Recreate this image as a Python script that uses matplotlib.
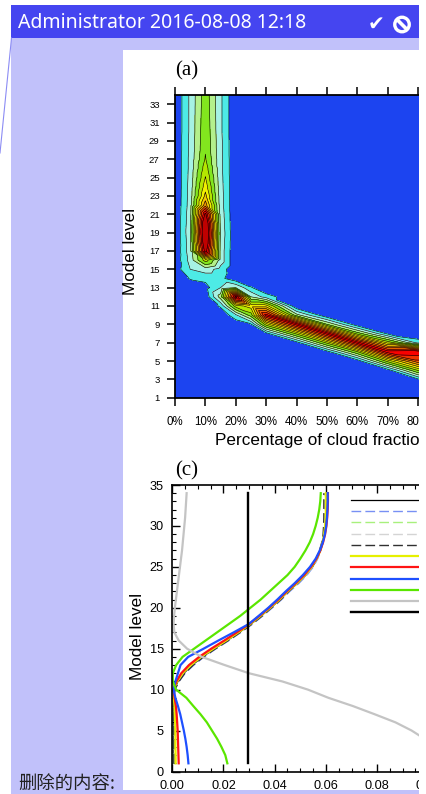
import matplotlib
matplotlib.use("Agg")
import matplotlib.pyplot as plt
import matplotlib.tri as mtri
import numpy as np
from matplotlib.patches import Rectangle, Ellipse
from matplotlib.lines import Line2D

plt.rcParams['font.family'] = ['Liberation Sans', 'DejaVu Sans']

W, H = 427, 794

# ---------------- panel (a) data ----------------
frac_bins = [0, 5, 10, 15, 20, 25, 30, 40, 50, 60, 70, 80, 90, 100]
levels_a = list(range(1, 35))
cloud_freq = [
    [0, 0, 0, 0, 0, 0, 0, 0, 0, 0, 0, 0, 0, 0],               # 1
    [0, 0, 0, 0, 0, 0, 0, 0, 0, 0, 0, 0, 0, 1.0],             # 2
    [0, 0, 0, 0, 0, 0, 0, 0, 0, 0, 0, 0.85, 2.0, 3.0],        # 3
    [0, 0, 0, 0, 0, 0, 0, 0, 0, 0, 0.55, 5.2, 5.0, 6.0],      # 4
    [0, 0, 0, 0, 0, 0, 0, 0, 0, 0.4, 5.4, 9.8, 10.0, 10.0],   # 5
    [0, 0, 0, 0, 0, 0, 0, 0, 0.55, 4.9, 11.6, 11.8, 10.0, 6.0],  # 6
    [0, 0, 0, 0, 0, 0, 0, 0.55, 5.3, 11.5, 5.7, 1.6, 1.5, 0.5],  # 7
    [0, 0, 0, 0, 0, 0, 0.63, 5.3, 11.5, 4.5, 0.7, 0, 0, 0],   # 8
    [0, 0, 0, 0, 0.2, 0.9, 5.5, 11.5, 4.0, 0.25, 0, 0, 0, 0],  # 9
    [0, 0, 0, 0, 1.8, 4.5, 11.5, 3.4, 0.1, 0, 0, 0, 0, 0],    # 10
    [0, 0, 0, 1.2, 5.5, 6.5, 6.5, 0, 0, 0, 0, 0, 0, 0],       # 11
    [0, 0, 0.2, 3.5, 12.5, 3.0, 1.5, 0, 0, 0, 0, 0, 0, 0],    # 12
    [0, 0.2, 0.6, 2.0, 3.0, 1.1, 0, 0, 0, 0, 0, 0, 0, 0],     # 13
    [0.1, 1.1, 1.3, 1.3, 0.2, 0, 0, 0, 0, 0, 0, 0, 0, 0],     # 14
    [0.4, 2.0, 2.5, 1.6, 0, 0, 0, 0, 0, 0, 0, 0, 0, 0],       # 15
    [0.2, 2.4, 5.5, 2.6, 0, 0, 0, 0, 0, 0, 0, 0, 0, 0],       # 16
    [0.1, 2.6, 12.8, 2.6, 0, 0, 0, 0, 0, 0, 0, 0, 0, 0],      # 17
    [0, 2.7, 14.0, 2.7, 0, 0, 0, 0, 0, 0, 0, 0, 0, 0],        # 18
    [0, 2.8, 14.5, 2.8, 0, 0, 0, 0, 0, 0, 0, 0, 0, 0],        # 19
    [0, 2.7, 14.0, 2.7, 0, 0, 0, 0, 0, 0, 0, 0, 0, 0],        # 20
    [0, 2.6, 12.4, 2.6, 0, 0, 0, 0, 0, 0, 0, 0, 0, 0],        # 21
    [0, 2.5, 8.6, 2.5, 0, 0, 0, 0, 0, 0, 0, 0, 0, 0],         # 22
    [0, 2.45, 7.3, 2.45, 0, 0, 0, 0, 0, 0, 0, 0, 0, 0],       # 23
    [0, 2.4, 6.6, 2.4, 0, 0, 0, 0, 0, 0, 0, 0, 0, 0],         # 24
    [0, 2.35, 6.05, 2.35, 0, 0, 0, 0, 0, 0, 0, 0, 0, 0],      # 25
    [0, 2.3, 5.55, 2.3, 0, 0, 0, 0, 0, 0, 0, 0, 0, 0],        # 26
    [0, 2.3, 5.1, 2.3, 0, 0, 0, 0, 0, 0, 0, 0, 0, 0],         # 27
    [0, 2.25, 4.92, 2.25, 0, 0, 0, 0, 0, 0, 0, 0, 0, 0],      # 28
    [0, 2.25, 4.85, 2.25, 0, 0, 0, 0, 0, 0, 0, 0, 0, 0],      # 29
    [0, 2.2, 4.8, 2.2, 0, 0, 0, 0, 0, 0, 0, 0, 0, 0],         # 30
    [0, 2.2, 4.75, 2.2, 0, 0, 0, 0, 0, 0, 0, 0, 0, 0],        # 31
    [0, 2.2, 4.7, 2.2, 0, 0, 0, 0, 0, 0, 0, 0, 0, 0],         # 32
    [0, 2.2, 4.65, 2.2, 0, 0, 0, 0, 0, 0, 0, 0, 0, 0],        # 33
    [0, 2.2, 4.6, 2.2, 0, 0, 0, 0, 0, 0, 0, 0, 0, 0],         # 34
]
contour_levels = [-1, 1, 2, 3, 4, 5, 6, 7, 8, 9, 10, 11, 12, 100]
contour_colors = ['#1C44F0', '#4DEBE6', '#A6F2E4', '#B4F08C', '#82E61E',
                  '#B4E600', '#F0F000', '#F0C800', '#F09600', '#F06400',
                  '#F03200', '#FA0000', '#C00000']
yticks_a = list(range(1, 34, 2))
xticks_a = list(range(0, 81, 10))
xticklabels_a = [f"{v}%" for v in xticks_a]

# ---------------- panel (c) data ----------------
levels_c = list(range(1, 35))
black_thin = [0.0003, 0.0003, 0.0003, 0.0003, 0.0003, 0.0003, 0.0003, 0.0003, 0.0004, 0.0008,
              0.0022, 0.0045, 0.0078, 0.0118, 0.0165, 0.0215, 0.0262, 0.0307, 0.0347, 0.0385,
              0.0421, 0.0453, 0.0490, 0.0522, 0.0548, 0.0566, 0.0579, 0.0588, 0.0594, 0.0598,
              0.0600, 0.0601, 0.0602, 0.0602]
blue_dashed = [0.0005, 0.0005, 0.0005, 0.0005, 0.0005, 0.0005, 0.0005, 0.0005, 0.0006, 0.0010,
               0.0026, 0.0050, 0.0084, 0.0124, 0.0171, 0.0221, 0.0268, 0.0313, 0.0353, 0.0391,
               0.0427, 0.0459, 0.0495, 0.0526, 0.0551, 0.0568, 0.0580, 0.0589, 0.0595, 0.0598,
               0.0600, 0.0600, 0.0600, 0.0600]
green_dashed = [0.0004, 0.0004, 0.0004, 0.0004, 0.0004, 0.0004, 0.0004, 0.0004, 0.0005, 0.0008,
                0.0020, 0.0043, 0.0076, 0.0116, 0.0163, 0.0213, 0.0260, 0.0305, 0.0345, 0.0383,
                0.0419, 0.0451, 0.0488, 0.0520, 0.0546, 0.0565, 0.0578, 0.0587, 0.0593, 0.0597,
                0.0598, 0.0598, 0.0598, 0.0598]
gray_dashed = [0.0008, 0.0008, 0.0008, 0.0008, 0.0008, 0.0008, 0.0008, 0.0008, 0.0008, 0.0010,
               0.0024, 0.0047, 0.0080, 0.0120, 0.0167, 0.0217, 0.0264, 0.0309, 0.0349, 0.0387,
               0.0423, 0.0455, 0.0491, 0.0522, 0.0547, 0.0565, 0.0578, 0.0587, 0.0592, 0.0595,
               0.0596, 0.0596, 0.0596, 0.0596]
black_dashed = [0.0006, 0.0006, 0.0006, 0.0006, 0.0006, 0.0006, 0.0006, 0.0006, 0.0006, 0.0010,
                0.0026, 0.0049, 0.0082, 0.0122, 0.0169, 0.0219, 0.0266, 0.0311, 0.0351, 0.0388,
                0.0424, 0.0455, 0.0490, 0.0520, 0.0544, 0.0562, 0.0575, 0.0584, 0.0589, 0.0591,
                0.0592, 0.0592, 0.0592, 0.0592]
yellow = [0.0013, 0.0013, 0.0012, 0.0012, 0.0012, 0.0011, 0.0010, 0.0009, 0.0006, 0.0004,
          0.0019, 0.0040, 0.0072, 0.0112, 0.0160, 0.0210, 0.0258, 0.0304, 0.0344, 0.0382,
          0.0418, 0.0450, 0.0486, 0.0518, 0.0545, 0.0564, 0.0578, 0.0587, 0.0593, 0.0597,
          0.0599, 0.0600, 0.0600, 0.0600]
red = [0.0025, 0.0024, 0.0023, 0.0022, 0.0021, 0.0019, 0.0017, 0.0014, 0.0009, 0.0005,
       0.0016, 0.0035, 0.0065, 0.0105, 0.0152, 0.0203, 0.0252, 0.0300, 0.0340, 0.0378,
       0.0414, 0.0447, 0.0482, 0.0515, 0.0542, 0.0563, 0.0578, 0.0589, 0.0597, 0.0602,
       0.0605, 0.0607, 0.0608, 0.0608]
blue = [0.0063, 0.0060, 0.0056, 0.0051, 0.0045, 0.0038, 0.0031, 0.0022, 0.0012, 0.0005,
        0.0012, 0.0022, 0.0032, 0.0062, 0.0122, 0.0180, 0.0240, 0.0298, 0.0337, 0.0375,
        0.0410, 0.0443, 0.0478, 0.0510, 0.0538, 0.0560, 0.0576, 0.0588, 0.0596, 0.0601,
        0.0604, 0.0606, 0.0607, 0.0607]
green = [0.0215, 0.0207, 0.0192, 0.0175, 0.0155, 0.0135, 0.0110, 0.0082, 0.0055, 0.0015,
         0.0002, 0.0002, 0.0015, 0.0040, 0.0085, 0.0130, 0.0175, 0.0220, 0.0265, 0.0305,
         0.0345, 0.0380, 0.0415, 0.0450, 0.0478, 0.0500, 0.0520, 0.0537, 0.0550, 0.0560,
         0.0568, 0.0574, 0.0578, 0.0580]
gray = [0.1075, 0.1055, 0.1025, 0.0985, 0.0935, 0.0872, 0.0790, 0.0705, 0.0610, 0.0530,
        0.0430, 0.0300, 0.0205, 0.0115, 0.0058, 0.0025, 0.0008, 0.0005, 0.0007, 0.0010,
        0.0014, 0.0018, 0.0022, 0.0026, 0.0030, 0.0034, 0.0038, 0.0041, 0.0044, 0.0047,
        0.0050, 0.0052, 0.0054, 0.0056]
threshold = 0.0295
yticks_c = list(range(0, 36, 5))
xticks_c = [0.00, 0.02, 0.04, 0.06, 0.08, 0.10]

# ---------------- figure & page decoration ----------------
fig = plt.figure(figsize=(W / 100, H / 100), dpi=100)
fig.patch.set_facecolor('white')


def frect(x0, y0, x1, y1, color, z):
    fig.add_artist(Rectangle((x0 / W, 1 - y1 / H), (x1 - x0) / W, (y1 - y0) / H,
                             transform=fig.transFigure, facecolor=color,
                             edgecolor='none', zorder=z))


def axrect(x0, y0, x1, y1):
    return [x0 / W, 1 - y1 / H, (x1 - x0) / W, (y1 - y0) / H]


def ftext(x, y, s, **kw):
    return fig.text(x / W, 1 - y / H, s, **kw)


frect(11, 38, 419, 794, '#C1C1FA', -10)   # lavender comment pane
frect(11, 5, 419, 38, '#4545F0', -9)      # header bar
frect(123, 50, 419, 790, 'white', -8)     # page
fig.add_artist(Line2D([11.5 / W, 0], [1 - 38 / H, 1 - 153 / H], transform=fig.transFigure,
                      color='#8C8CF4', lw=0.8, zorder=-7))

ftext(18, 23, 'Administrator 2016-08-08 12:18', color='white', fontsize=14.0,
      family=['Noto Sans', 'DejaVu Sans'], ha='left', va='center')
ftext(376.5, 24, '\u2714', color='white', fontsize=14.5, family='DejaVu Sans',
      ha='center', va='center')
fig.add_artist(Ellipse((402 / W, 1 - 24.5 / H), 14.5 / W, 14.5 / H, transform=fig.transFigure,
                       facecolor='none', edgecolor='white', lw=2.4, zorder=5))
fig.add_artist(Line2D([397.5 / W, 406.5 / W], [1 - 20 / H, 1 - 29 / H], transform=fig.transFigure,
                      color='white', lw=2.6, zorder=5))
ftext(18, 784.5, '删除的内容:', color='#222222', fontsize=13.2,
      family=['Noto Sans CJK SC', 'DejaVu Sans'], ha='left', va='center')

# ---------------- panel (a) ----------------
ax1 = fig.add_axes(axrect(175, 95, 479, 397.7))
X, Y = np.meshgrid(frac_bins, levels_a)
Z = np.array(cloud_freq, dtype=float)
nr, nc = Z.shape
tris = []
for j in range(nr - 1):
    for i in range(nc - 1):
        a = j * nc + i
        b = a + 1
        c = a + nc
        d = c + 1
        tris.append([c, a, b])
        tris.append([c, b, d])
tri = mtri.Triangulation(X.ravel(), Y.ravel(), triangles=np.array(tris))
ax1.tricontourf(tri, Z.ravel(), levels=contour_levels, colors=contour_colors)
ax1.tricontour(tri, Z.ravel(), levels=contour_levels[1:-1], colors='black', linewidths=0.42)
ax1.set_xlim(0, 100)
ax1.set_ylim(1, 34)
ax1.set_xticks(xticks_a)
ax1.set_xticklabels(xticklabels_a, fontsize=8.3)
ax1.set_xticks([90, 100], minor=True)
ax1.set_yticks(yticks_a)
ax1.set_yticklabels([str(v) for v in yticks_a], fontsize=6.8)
ax1.tick_params(axis='both', which='both', direction='out', length=6, width=1.1,
                top=True, right=True)
ax1.tick_params(axis='x', pad=7)
ax1.tick_params(axis='y', pad=5)
for s in ax1.spines.values():
    s.set_linewidth(1.3)
ftext(175, 71, '(a)', fontsize=15, family='Liberation Serif', ha='left', va='center')
ftext(215, 441, 'Percentage of cloud fraction', fontsize=12.3, ha='left', va='center')
ftext(131, 251, 'Model level', fontsize=12.3, rotation=90, ha='center', va='center')

# ---------------- panel (c) ----------------
ax2 = fig.add_axes(axrect(172.3, 485, 479.5, 771.5))
h1, = ax2.plot(black_thin, levels_c, color='black', lw=0.9)
h2, = ax2.plot(blue_dashed, levels_c, color='#7890F4', lw=1.0, ls=(0, (7, 3)))
h3, = ax2.plot(green_dashed, levels_c, color='#A8F07C', lw=1.0, ls=(0, (7, 3)))
h4, = ax2.plot(gray_dashed, levels_c, color='#D4D4D4', lw=1.0, ls=(0, (7, 3)))
h5, = ax2.plot(black_dashed, levels_c, color='#303030', lw=1.0, ls=(0, (7, 3)))
h6, = ax2.plot(yellow, levels_c, color='#E6F000', lw=1.6)
h7, = ax2.plot(red, levels_c, color='#FF1414', lw=1.6)
h8, = ax2.plot(blue, levels_c, color='#1E50FF', lw=1.6)
h9, = ax2.plot(green, levels_c, color='#5AE600', lw=1.6)
h10, = ax2.plot(gray, levels_c, color='#C4C4C4', lw=1.6)
h11, = ax2.plot([threshold, threshold], [levels_c[0], levels_c[-1]], color='black', lw=1.7)
ax2.set_xlim(0, 0.12)
ax2.set_ylim(0, 35)
ax2.set_xticks(xticks_c)
ax2.set_xticklabels([f"{v:.2f}" for v in xticks_c], fontsize=9.2)
ax2.set_xticks(np.arange(0, 0.1201, 0.005), minor=True)
ax2.set_yticks(yticks_c)
ax2.set_yticklabels([str(v) for v in yticks_c], fontsize=9.2)
ax2.set_yticks(range(0, 36), minor=True)
ax2.tick_params(axis='both', which='major', direction='in', length=6, width=1.0,
                top=True, right=True)
ax2.tick_params(axis='both', which='minor', direction='in', length=3, width=0.8,
                top=True, right=True)
ax2.tick_params(axis='x', which='major', pad=6)
ax2.tick_params(axis='y', which='major', pad=6)
for s in ax2.spines.values():
    s.set_linewidth(1.2)
ax2.legend([h1, h2, h3, h4, h5, h6, h7, h8, h9, h10, h11], [' '] * 11,
           loc='upper left', bbox_to_anchor=(0.581, 0.962), frameon=False,
           fontsize=8, labelspacing=0.11, handlelength=12, borderpad=0,
           borderaxespad=0, handletextpad=0.5)
ftext(175, 471, '(c)', fontsize=15, family='Liberation Serif', ha='left', va='center')
ftext(137.5, 636.5, 'Model level', fontsize=12.3, rotation=90, ha='center', va='center')

# white area right of the page
frect(419, 0, W + 5, H, 'white', 20)

fig.savefig('out.png', dpi=100)
